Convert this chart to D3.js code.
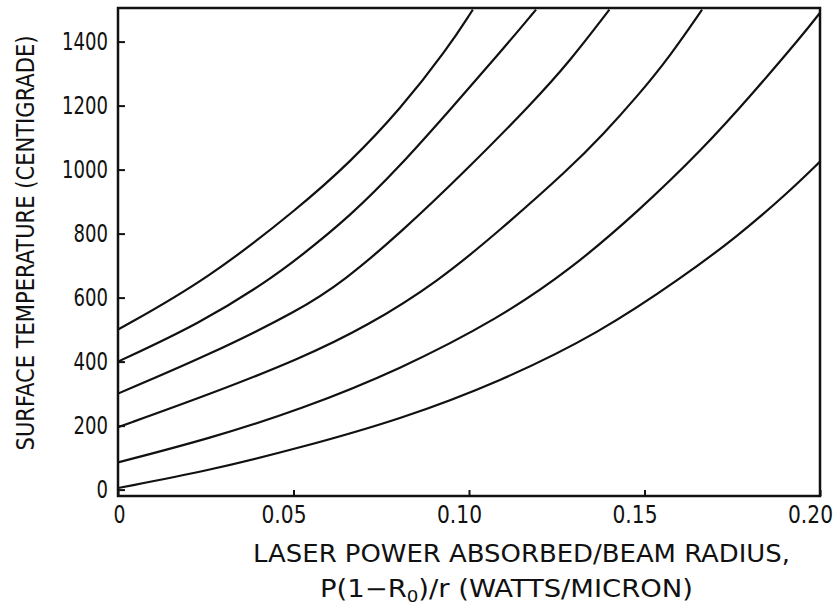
<!DOCTYPE html>
<html>
<head>
<meta charset="utf-8">
<script src="https://cdn.jsdelivr.net/npm/d3@7"></script>
<style>
    body { margin: 0; background: #fff; }
    svg { display: block; }
    text { font-family: "DejaVu Sans Condensed", "Liberation Sans", sans-serif; fill: #111; }
</style>
</head>
<body>
<svg id="chart" width="840" height="606"></svg>
<script>
// values, [power, temperature]
const curve500 = [[0, 500], [0.0254, 656], [0.0519, 884], [0.066, 1022], [0.0803, 1187], [0.0937, 1375], [0.1011, 1500]];
const curve400 = [[0, 400], [0.0234, 520], [0.0424, 650], [0.0519, 728], [0.066, 853], [0.0803, 1010], [0.0946, 1187], [0.1088, 1365], [0.1191, 1500]];
const curve300 = [[0, 300], [0.0262, 422], [0.0519, 562], [0.0641, 650], [0.0803, 800], [0.0994, 1000], [0.1182, 1210], [0.1288, 1340], [0.140, 1500]];
const curve200 = [[0, 195], [0.0262, 298], [0.0519, 409], [0.0709, 510], [0.0912, 650], [0.1088, 810], [0.1288, 1005], [0.1382, 1110], [0.1479, 1228], [0.1573, 1355], [0.1664, 1500]];
const curve85 = [[0, 85], [0.0262, 160], [0.0519, 250], [0.0803, 375], [0.1088, 537], [0.1288, 687], [0.1479, 866], [0.1667, 1065], [0.181, 1240], [0.195, 1420], [0.2, 1490]];
const curve5 = [[0, 5], [0.0262, 60], [0.0519, 131], [0.0803, 219], [0.1088, 337], [0.1373, 490], [0.161, 665], [0.1763, 790], [0.1906, 925], [0.2, 1025]];
const curves = [curve500, curve400, curve300, curve200, curve85, curve5];

const xTicks = [0, 0.05, 0.10, 0.15, 0.20];
const yTicks = [0, 200, 400, 600, 800, 1000, 1200, 1400];

const svg = d3.select('#chart');
const plotL = 118, plotR = 820, plotT = 8, plotB = 496;

const x = d3.scaleLinear().domain([0, 0.2]).range([plotL, plotR]);
const y = d3.scaleLinear().domain([-20, 1505]).range([plotB, plotT]);

svg.append('clipPath')
    .attr('id', 'plot')
    .append('rect')
    .attr('x', plotL)
    .attr('y', plotT)
    .attr('width', plotR - plotL)
    .attr('height', plotB - plotT);

const line = d3.line()
    .x(d => x(d[0]))
    .y(d => y(d[1]))
    .curve(d3.curveBasis);

svg.append('g')
    .attr('clip-path', 'url(#plot)')
    .selectAll('path')
    .data(curves)
    .enter()
    .append('path')
    .attr('d', line)
    .attr('fill', 'none')
    .attr('stroke', '#111')
    .attr('stroke-width', 2.2);

// y axis, ticks pointing in
const yAxis = svg.append('g')
    .attr('transform', `translate(${plotL},0)`)
    .call(d3.axisLeft(y).tickValues(yTicks).tickSize(-7).tickPadding(10).tickFormat(d3.format('d')));
yAxis.select('.domain').remove();
yAxis.selectAll('line').attr('stroke', '#111').attr('stroke-width', 2);
yAxis.selectAll('text')
    .attr('font-size', 25)
    .attr('fill', '#111')
    .attr('textLength', d => String(d).length * 11.5)
    .attr('lengthAdjust', 'spacingAndGlyphs');

// x axis
const xAxis = svg.append('g')
    .attr('transform', `translate(0,${plotB})`)
    .call(d3.axisBottom(x).tickValues(xTicks).tickSize(-6).tickPadding(9)
        .tickFormat(d => d == 0 ? '0' : d3.format('.2f')(d)));
xAxis.select('.domain').remove();
xAxis.selectAll('line').attr('stroke', '#111').attr('stroke-width', 2);
xAxis.selectAll('text')
    .attr('font-size', 25)
    .attr('fill', '#111')
    .attr('dx', d => d == 0 ? 1 : -10)
    .attr('textLength', d => d == 0 ? 12 : 45)
    .attr('lengthAdjust', 'spacingAndGlyphs');

// frame
svg.append('rect')
    .attr('x', plotL)
    .attr('y', plotT)
    .attr('width', plotR - plotL)
    .attr('height', plotB - plotT)
    .attr('fill', 'none')
    .attr('stroke', '#111')
    .attr('stroke-width', 2.5);

svg.append('text')
    .attr('transform', 'translate(34,243) rotate(-90)')
    .attr('text-anchor', 'middle')
    .attr('font-size', 24)
    .attr('textLength', 415)
    .attr('lengthAdjust', 'spacingAndGlyphs')
    .text('SURFACE TEMPERATURE (CENTIGRADE)');

svg.append('text')
    .attr('x', 253)
    .attr('y', 562)
    .attr('font-size', 24)
    .attr('textLength', 537)
    .attr('lengthAdjust', 'spacingAndGlyphs')
    .text('LASER POWER ABSORBED/BEAM RADIUS,');

const t2 = svg.append('text')
    .attr('x', 320)
    .attr('y', 597)
    .attr('font-size', 24)
    .attr('textLength', 373)
    .attr('lengthAdjust', 'spacingAndGlyphs');
t2.append('tspan').text('P(1\u2212R');
t2.append('tspan').attr('font-size', 16).attr('dy', 5).text('0');
t2.append('tspan').attr('dy', -5).text(')/r (WATTS/MICRON)');
</script>
</body>
</html>
